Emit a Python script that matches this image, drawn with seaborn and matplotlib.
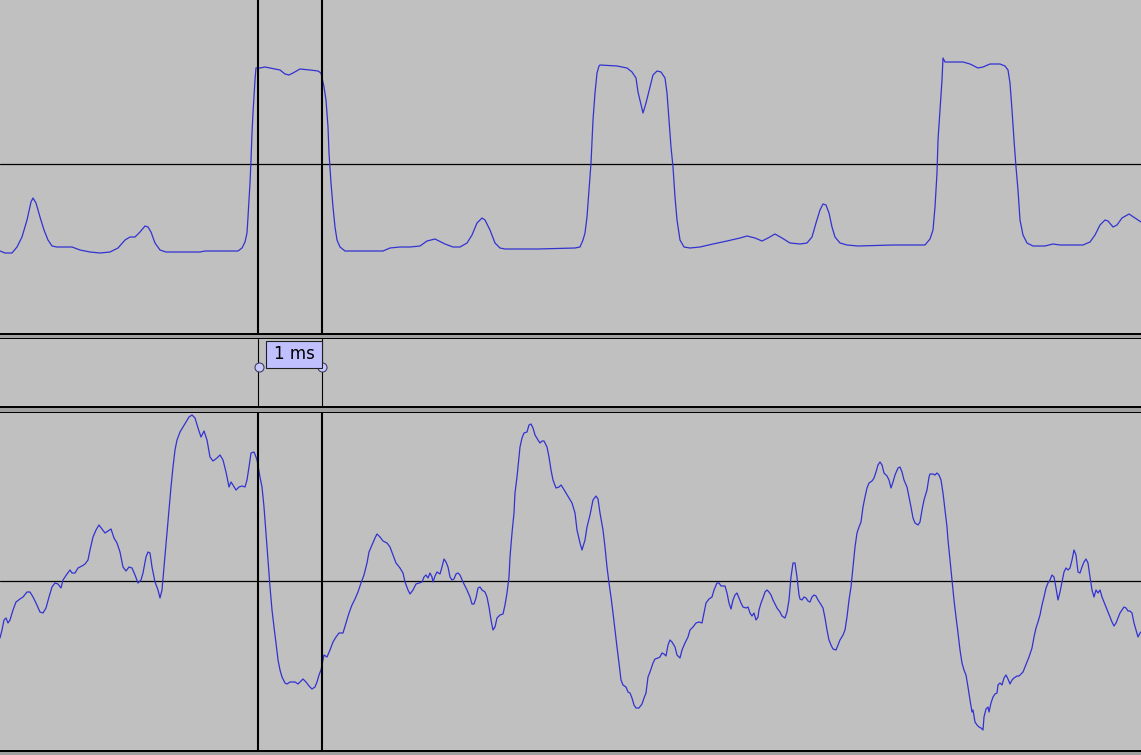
"""
Two-channel scope capture: pulse train (top) vs. filtered response (bottom),
with a pair of time cursors marking a 1 ms interval.
"""

import matplotlib
matplotlib.use("Agg")
import matplotlib.pyplot as plt
import matplotlib.transforms as mtransforms
from matplotlib.patches import Rectangle
import numpy as np
import pandas as pd
import seaborn as sns

SAMPLE_RATE_KHZ = 64          # samples per ms
VIEW_SAMPLES = 1141           # visible window, in samples
CURSOR_A = 258                # cursor positions, in samples
CURSOR_B = 322

# (sample, level) pairs
TOP_POINTS = [
    (0, -87), (5, -89), (12, -89), (17, -83), (22, -73), (27, -56), (31, -38), (33, -34),
    (36, -39), (40, -53), (44, -66), (48, -76), (52, -82), (57, -83), (72, -83), (80, -86),
    (90, -88), (100, -89), (110, -88), (118, -84), (125, -76), (130, -73), (135, -73),
    (140, -68), (145, -62), (148, -63), (151, -68), (155, -79), (160, -86), (166, -88),
    (200, -88), (205, -87), (238, -87), (242, -84), (245, -78), (247, -69), (248, -53),
    (250, -19), (251, 4), (252, 31), (253, 51), (254, 67), (255, 84), (256, 96), (260, 96),
    (265, 97), (275, 95), (280, 94), (285, 90), (289, 89), (293, 91), (300, 95), (310, 94),
    (318, 93), (321, 91), (324, 77), (326, 64), (328, 37), (329, 11), (331, -19), (333, -43),
    (335, -63), (337, -76), (340, -83), (345, -87), (350, -87), (383, -87), (390, -84),
    (400, -83), (405, -83), (410, -83), (420, -82), (427, -77), (435, -75), (445, -80),
    (453, -83), (460, -83), (467, -79), (472, -71), (477, -59), (482, -54), (485, -56),
    (490, -66), (495, -79), (500, -84), (505, -85), (538, -85), (575, -84), (580, -83),
    (583, -76), (585, -69), (587, -53), (589, -26), (591, 1), (593, 44), (595, 71), (597, 91),
    (599, 98), (600, 99), (617, 98), (627, 96), (632, 92), (636, 86), (638, 72), (643, 51),
    (646, 61), (650, 77), (653, 89), (657, 93), (661, 92), (665, 86), (667, 71), (669, 44),
    (671, 17), (673, -3), (675, -33), (677, -56), (680, -76), (684, -83), (690, -84),
    (700, -83), (713, -80), (727, -77), (740, -74), (747, -72), (755, -74), (762, -77),
    (768, -74), (775, -70), (782, -74), (790, -79), (800, -80), (807, -79), (812, -73),
    (816, -59), (820, -46), (823, -40), (826, -41), (829, -49), (832, -63), (835, -73),
    (840, -79), (847, -81), (858, -82), (893, -81), (925, -81), (930, -75), (933, -66),
    (935, -43), (937, -9), (938, 24), (940, 54), (942, 84), (943, 106), (945, 102), (950, 102),
    (963, 102), (970, 100), (978, 96), (983, 97), (990, 100), (1000, 100), (1005, 98),
    (1008, 94), (1010, 81), (1012, 54), (1014, 24), (1016, -3), (1018, -26), (1020, -56),
    (1023, -71), (1027, -79), (1033, -82), (1045, -82), (1053, -80), (1060, -81), (1083, -81),
    (1090, -78), (1095, -71), (1100, -61), (1105, -56), (1108, -57), (1113, -63), (1117, -61),
    (1122, -54), (1129, -50), (1135, -54), (1141, -58),
]

BOTTOM_POINTS = [
    (0, -57), (2, -49), (4, -39), (6, -37), (8, -42), (10, -39), (13, -29), (16, -21),
    (20, -18), (23, -16), (27, -11), (30, -11), (33, -16), (36, -22), (40, -31), (43, -32),
    (46, -27), (49, -16), (52, -6), (55, -2), (58, -3), (61, -7), (63, 1), (67, 7), (70, 11),
    (72, 8), (75, 8), (78, 13), (82, 15), (85, 17), (88, 21), (90, 31), (93, 44), (96, 51),
    (99, 56), (102, 52), (105, 48), (108, 50), (111, 52), (114, 43), (117, 38), (120, 29),
    (123, 14), (126, 10), (129, 14), (132, 13), (135, 6), (138, -2), (141, 1), (143, 8),
    (146, 24), (148, 29), (150, 28), (152, 14), (155, -1), (158, -9), (160, -17), (162, -9),
    (164, 14), (167, 48), (169, 71), (171, 94), (173, 114), (175, 131), (177, 141),
    (180, 149), (183, 154), (186, 159), (189, 164), (192, 166), (195, 163), (198, 153),
    (201, 144), (204, 150), (207, 141), (210, 124), (213, 120), (217, 123), (220, 126),
    (223, 121), (226, 109), (229, 94), (231, 99), (233, 96), (236, 91), (239, 94), (242, 95),
    (245, 94), (247, 101), (249, 114), (251, 128), (254, 129), (256, 124), (257, 121),
    (260, 104), (262, 94), (264, 74), (266, 48), (268, 21), (270, -6), (272, -29), (274, -46),
    (276, -62), (278, -79), (280, -89), (282, -96), (285, -102), (287, -103), (290, -101),
    (295, -101), (298, -103), (300, -101), (303, -98), (306, -101), (309, -105), (312, -108),
    (315, -106), (317, -101), (319, -94), (321, -89), (324, -74), (327, -76), (330, -69),
    (333, -61), (336, -56), (339, -52), (343, -52), (346, -42), (349, -32), (352, -24),
    (355, -18), (358, -11), (361, -2), (364, 6), (367, 18), (369, 29), (372, 36), (375, 43),
    (377, 47), (380, 44), (383, 40), (387, 38), (390, 34), (393, 26), (396, 18), (400, 13),
    (403, 8), (405, -1), (408, -9), (410, -13), (413, -9), (416, -3), (419, -2), (422, -1),
    (424, 4), (426, 6), (428, 3), (430, 8), (432, 4), (433, -1), (435, 5), (437, 9), (440, 7),
    (442, 14), (444, 22), (446, 19), (448, 14), (450, 4), (452, 1), (454, 2), (456, 7),
    (458, 8), (460, 6), (463, -1), (467, -9), (470, -16), (472, -23), (474, -23), (476, -17),
    (478, -7), (480, -6), (482, -9), (485, -11), (487, -16), (489, -26), (491, -39),
    (493, -49), (495, -46), (497, -37), (500, -34), (503, -33), (505, -24), (507, -12),
    (509, 4), (510, 24), (512, 48), (514, 68), (515, 88), (517, 104), (519, 124), (520, 134),
    (522, 143), (524, 148), (527, 149), (529, 156), (531, 157), (533, 153), (535, 146),
    (538, 141), (540, 138), (542, 140), (544, 140), (547, 134), (549, 124), (551, 111),
    (553, 101), (556, 93), (559, 94), (561, 96), (563, 93), (566, 88), (569, 83), (572, 78),
    (575, 68), (577, 51), (580, 38), (582, 31), (585, 41), (587, 54), (590, 66), (593, 81),
    (596, 85), (598, 82), (600, 68), (603, 51), (605, 34), (607, 14), (609, -2), (611, -16),
    (613, -32), (615, -49), (617, -66), (619, -82), (621, -99), (623, -104), (626, -106),
    (628, -111), (630, -112), (632, -117), (634, -124), (636, -127), (639, -127),
    (642, -123), (644, -117), (646, -112), (648, -96), (650, -91), (653, -82), (655, -78),
    (658, -77), (660, -76), (662, -72), (664, -73), (666, -75), (668, -64), (670, -59),
    (672, -61), (675, -66), (677, -74), (680, -77), (682, -69), (685, -62), (688, -56),
    (690, -49), (693, -46), (696, -42), (699, -41), (702, -42), (704, -32), (706, -22),
    (709, -18), (712, -16), (714, -9), (717, -2), (719, -2), (721, -5), (725, -5), (727, -12),
    (729, -22), (731, -28), (733, -19), (735, -14), (737, -12), (739, -17), (741, -22),
    (743, -26), (746, -27), (748, -26), (750, -32), (752, -35), (754, -32), (756, -39),
    (758, -36), (759, -29), (761, -22), (763, -17), (765, -11), (767, -9), (769, -11),
    (771, -14), (773, -19), (775, -23), (777, -27), (780, -31), (782, -35), (785, -37),
    (787, -31), (789, -19), (791, 4), (793, 18), (795, 18), (797, 4), (799, -14), (800, -18),
    (802, -19), (804, -16), (806, -17), (808, -20), (810, -21), (812, -16), (814, -14),
    (816, -15), (818, -19), (820, -22), (823, -27), (825, -37), (827, -49), (829, -59),
    (831, -64), (833, -68), (836, -69), (838, -64), (840, -59), (843, -54), (845, -49),
    (847, -36), (849, -19), (851, -6), (853, 14), (855, 34), (857, 48), (859, 54), (861, 59),
    (863, 74), (865, 84), (867, 93), (869, 98), (872, 100), (874, 103), (876, 109),
    (878, 116), (880, 119), (882, 116), (884, 108), (887, 105), (889, 101), (891, 93),
    (893, 99), (895, 106), (898, 113), (900, 114), (902, 109), (904, 101), (907, 94),
    (909, 84), (911, 74), (913, 63), (915, 58), (918, 56), (920, 59), (922, 71), (924, 81),
    (927, 91), (929, 104), (930, 107), (933, 107), (935, 106), (937, 108), (939, 106),
    (941, 101), (943, 88), (945, 71), (947, 54), (948, 41), (950, 21), (952, 1), (954, -19),
    (956, -36), (958, -52), (960, -69), (962, -82), (964, -89), (966, -94), (968, -106),
    (970, -119), (972, -131), (973, -129), (975, -141), (977, -144), (979, -146),
    (981, -147), (983, -149), (984, -136), (986, -128), (988, -126), (989, -131),
    (991, -122), (993, -116), (995, -113), (997, -112), (998, -104), (1000, -102),
    (1002, -104), (1004, -97), (1006, -94), (1008, -98), (1010, -103), (1012, -99),
    (1014, -97), (1017, -95), (1019, -95), (1021, -93), (1023, -91), (1025, -86),
    (1027, -81), (1029, -76), (1032, -67), (1034, -56), (1036, -47), (1038, -41),
    (1040, -34), (1042, -24), (1044, -16), (1046, -7), (1048, -2), (1050, 1), (1052, 6),
    (1054, 4), (1056, -7), (1058, -19), (1060, -11), (1062, -1), (1064, 9), (1066, 13),
    (1068, 11), (1070, 13), (1072, 21), (1074, 31), (1076, 26), (1078, 9), (1080, 8),
    (1082, 14), (1084, 19), (1086, 22), (1088, 18), (1090, 4), (1092, -9), (1094, -16),
    (1096, -9), (1098, -12), (1100, -9), (1102, -16), (1104, -21), (1106, -26), (1108, -31),
    (1110, -36), (1112, -41), (1114, -45), (1116, -42), (1118, -37), (1120, -32),
    (1122, -29), (1124, -26), (1126, -27), (1128, -30), (1130, -30), (1132, -32),
    (1134, -42), (1136, -49), (1138, -56), (1140, -52), (1141, -51),
]

BG = "#c0c0c0"
TRACE = "#3232d2"
DARK = "#a0a0a0"

sns.set_style("white", {"axes.facecolor": BG, "figure.facecolor": BG})


def to_frame(points):
    df = pd.DataFrame(points, columns=["sample", "level"])
    df["t_ms"] = df["sample"] / SAMPLE_RATE_KHZ
    return df


def strip_axes(ax):
    ax.set_xlim(0, VIEW_SAMPLES / SAMPLE_RATE_KHZ)
    ax.set_facecolor(BG)
    ax.set_xticks([])
    ax.set_yticks([])
    ax.set_xlabel("")
    ax.set_ylabel("")
    for s in ax.spines.values():
        s.set_visible(False)


def main():
    H = 755.0
    fig = plt.figure(figsize=(11.41, 7.55), dpi=100, facecolor=BG)

    def rect(y0, y1):
        return [0, 1 - y1 / H, 1, (y1 - y0) / H]

    def band(y0, y1, color):
        fig.add_artist(Rectangle((0, 1 - y1 / H), 1, (y1 - y0) / H,
                                 transform=fig.transFigure, color=color, lw=0, zorder=5))

    top = fig.add_axes(rect(0, 333))
    mid = fig.add_axes(rect(339, 406))
    bot = fig.add_axes(rect(413, 750))

    ta, tb = CURSOR_A / SAMPLE_RATE_KHZ, CURSOR_B / SAMPLE_RATE_KHZ

    for ax, pts, ylim in ((top, TOP_POINTS, (-169, 164)), (bot, BOTTOM_POINTS, (-169, 168))):
        df = to_frame(pts)
        ax.axhline(0, color="black", lw=0.9, zorder=1)
        sns.lineplot(data=df, x="t_ms", y="level", ax=ax, color=TRACE, lw=0.9,
                     sort=False, estimator=None, zorder=2)
        for t in (ta, tb):
            ax.axvline(t, color="black", lw=1.5, zorder=3)
        ax.set_ylim(*ylim)
        strip_axes(ax)

    # middle cursor strip
    strip_axes(mid)
    mid.set_ylim(0, 1)
    for t in (ta, tb):
        mid.axvline(t, color="black", lw=0.8, zorder=1)
    trans = mtransforms.blended_transform_factory(mid.transData, mid.transAxes)
    box_w = 56 / SAMPLE_RATE_KHZ
    mid.add_patch(Rectangle((tb - box_w, 0.567), box_w, 0.403, transform=trans,
                            facecolor="#c0c0ff", edgecolor="#202020", lw=0.8, zorder=4))
    mid.text(tb - box_w / 2, 0.77, f"{(CURSOR_B - CURSOR_A) / SAMPLE_RATE_KHZ:.0f} ms",
             transform=trans, ha="center", va="center", fontsize=12, color="black", zorder=5)
    mid.plot([ta + 1 / SAMPLE_RATE_KHZ, tb], [0.58, 0.58], transform=trans, ls="none",
             marker="o", markersize=6.5, mfc="#c8c8ff", mec="#404060", mew=0.8, zorder=3)

    band(333, 335, "black")
    band(335, 338, DARK)
    band(338, 339, "black")
    band(406, 408, "black")
    band(408, 412, DARK)
    band(412, 413, "black")
    band(750, 752, "black")
    band(752, 755, DARK)

    fig.savefig("out.png", dpi=100, facecolor=BG)
    plt.close(fig)


if __name__ == "__main__":
    main()
